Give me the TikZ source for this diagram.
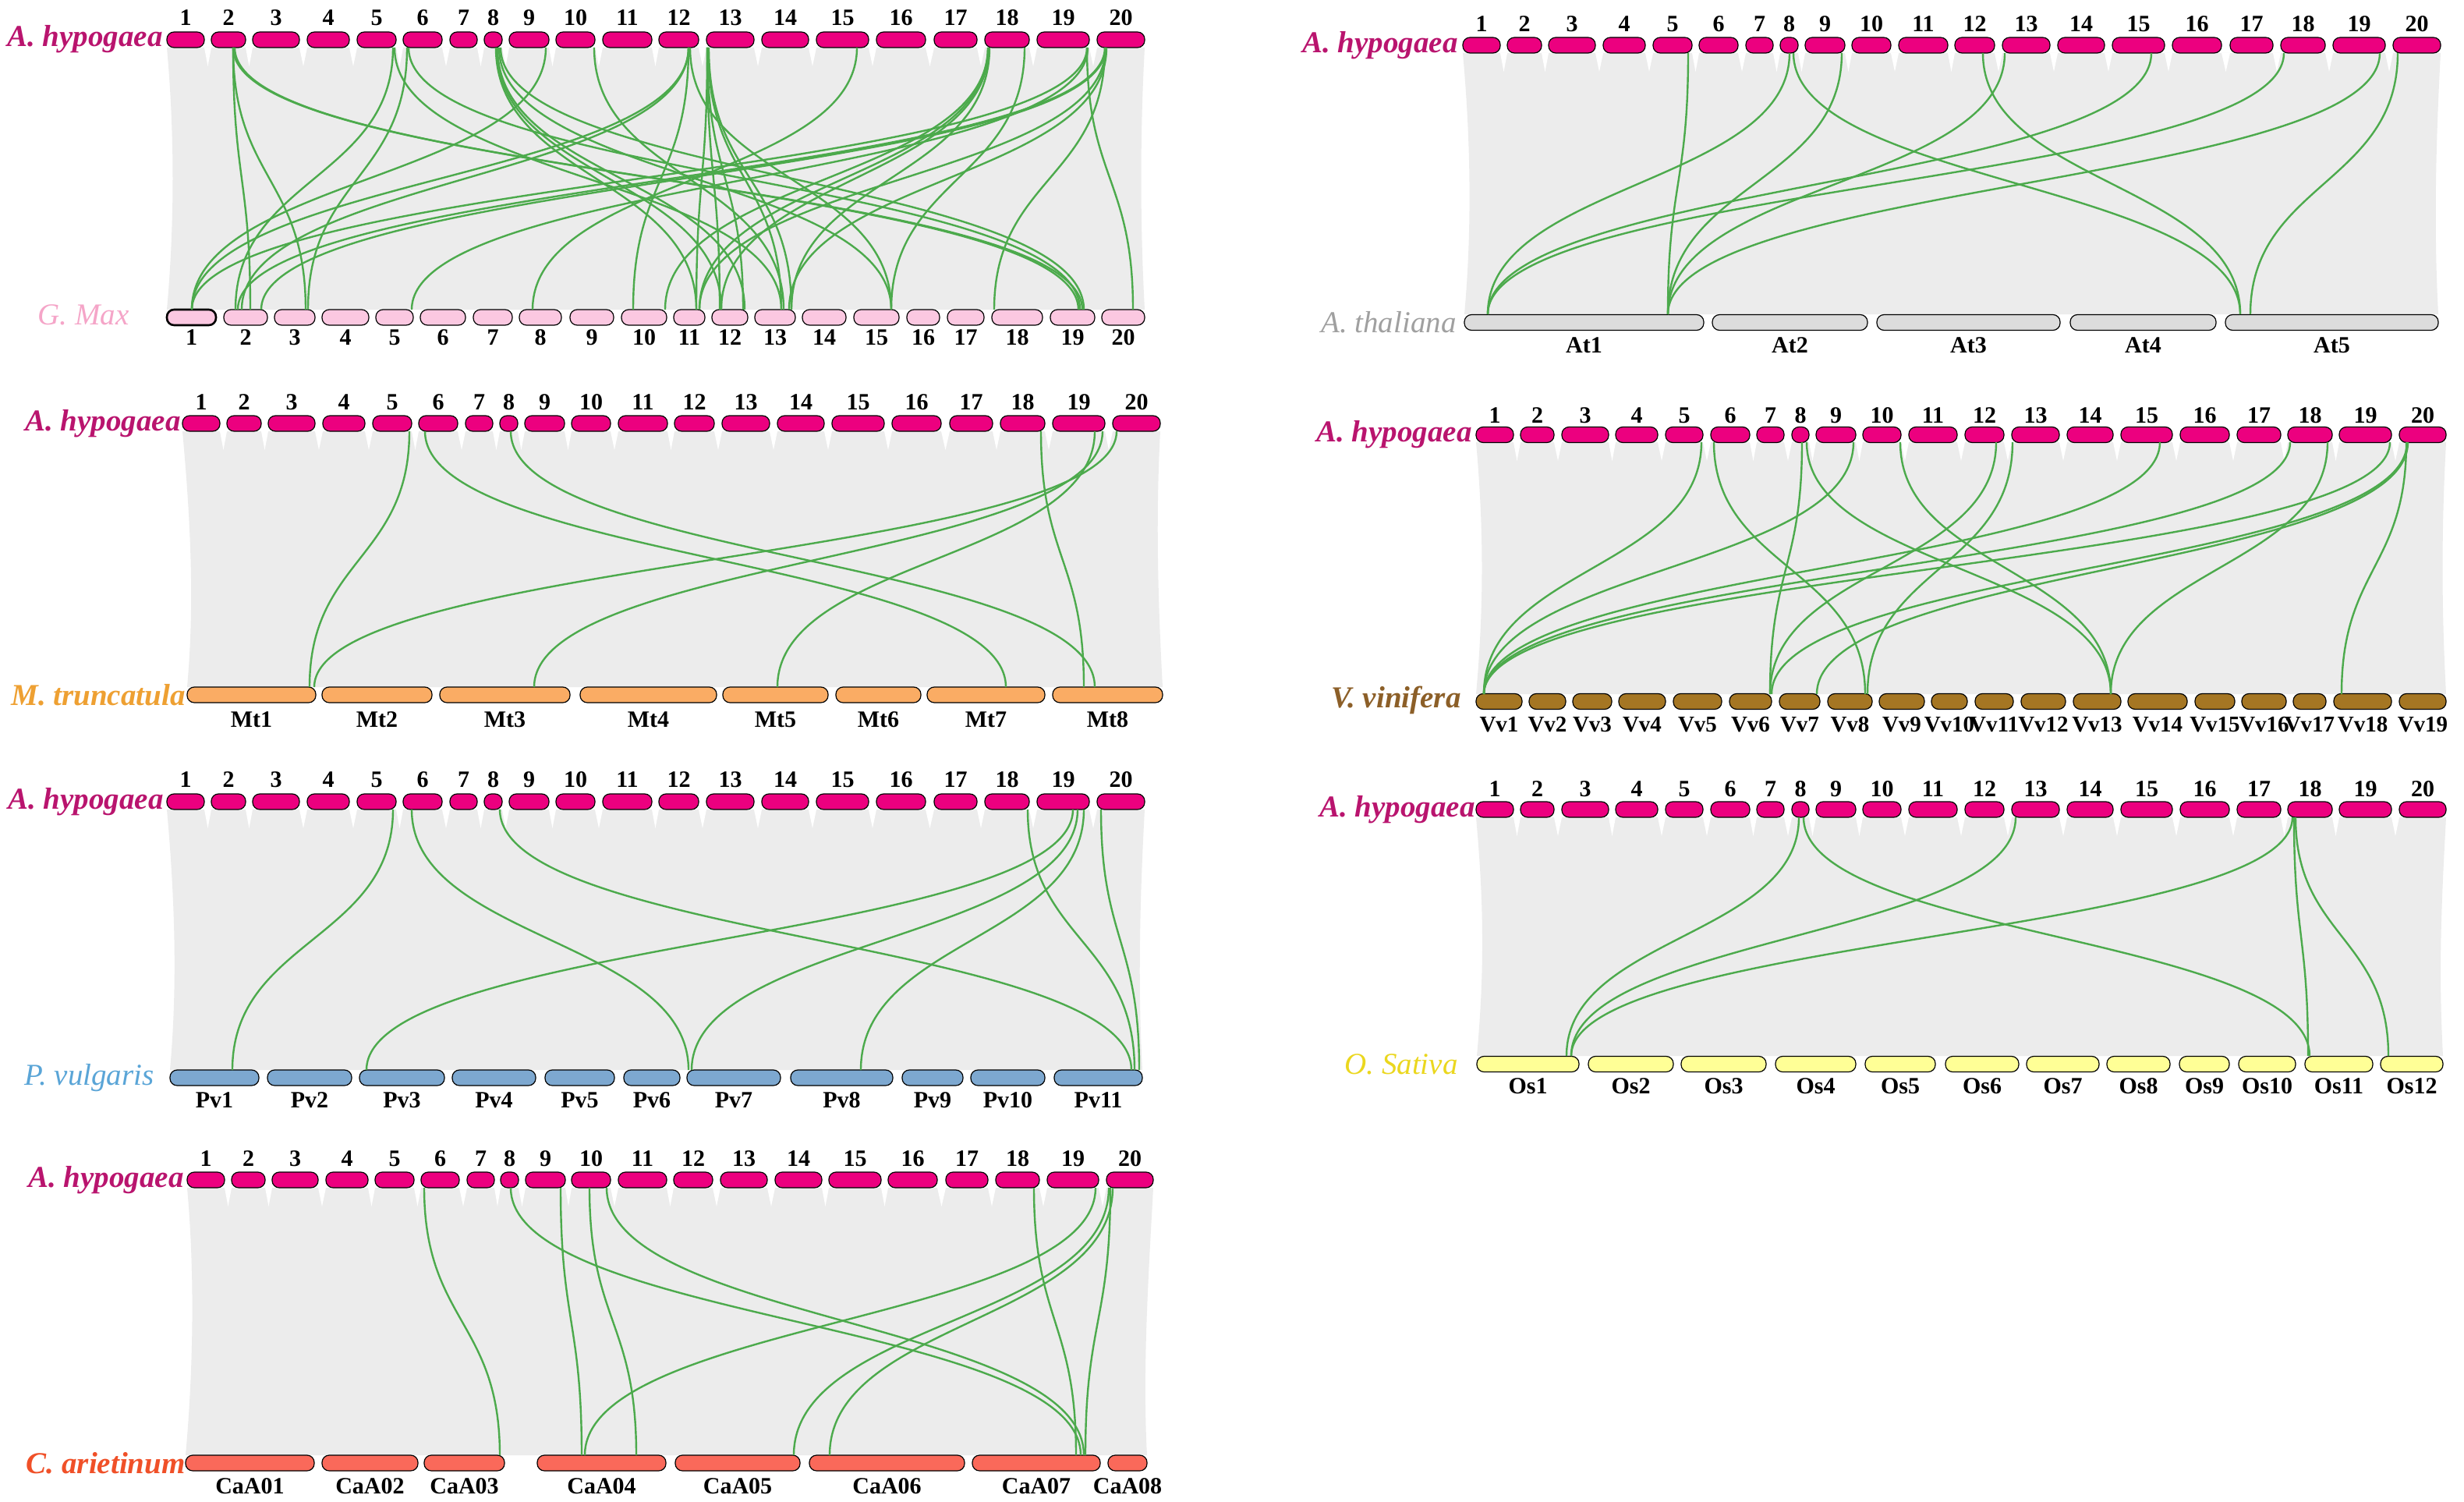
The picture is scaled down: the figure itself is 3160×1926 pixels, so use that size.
\documentclass[tikz,border=0pt]{standalone}
\usepackage{fontspec}
\setmainfont{Liberation Serif}
\definecolor{hypo}{RGB}{236,0,127}
\definecolor{hypolab}{RGB}{185,20,110}
\definecolor{gmfill}{RGB}{251,200,225}
\definecolor{gmlab}{RGB}{245,165,200}
\definecolor{atfill}{RGB}{220,220,220}
\definecolor{atlab}{RGB}{160,160,160}
\definecolor{mtfill}{RGB}{250,172,100}
\definecolor{mtlab}{RGB}{238,160,50}
\definecolor{vvfill}{RGB}{165,118,35}
\definecolor{vvlab}{RGB}{140,95,40}
\definecolor{pvfill}{RGB}{125,168,208}
\definecolor{pvlab}{RGB}{90,165,215}
\definecolor{osfill}{RGB}{255,255,150}
\definecolor{oslab}{RGB}{235,215,30}
\definecolor{cafill}{RGB}{250,105,90}
\definecolor{calab}{RGB}{240,80,40}
\definecolor{bandgray}{RGB}{236,236,236}
\definecolor{linkgreen}{RGB}{76,170,76}
\tikzset{
 chr/.style={draw=black, line width=0.6pt, rounded corners=4.6pt, minimum height=10pt, inner sep=0pt},
 num/.style={font=\bfseries\fontsize{15}{15}\selectfont, inner sep=0pt},
 sp/.style={font=\bfseries\itshape\fontsize{19.5}{19.5}\selectfont, anchor=east, inner sep=0pt},
 spl/.style={font=\itshape\fontsize{19.5}{19.5}\selectfont, anchor=east, inner sep=0pt},
 link/.style={draw=linkgreen, line width=1.2pt},
}
% #1 name, #2 ytop, #3 ybot, #4 fill, #5 label y, #6 label prefix, #7 notch, #8 list
\newcommand\chrrow[8]{%
  \foreach \l/\r [count=\i, remember=\r as \pr (initially 0)] in {#8} {
    \ifnum#7=1 \ifnum\i>1 \fill[white] (\pr,#3) -- (\l,#3) -- ({(\pr+\l)/2},#3+24) -- cycle; \fi\fi
    \node[chr, fill=#4, minimum width={(\r-\l)*0.5pt}] (#1\i) at ({(\l+\r)/2},{(#2+#3)/2}) {};
    \node[num] (#1t\i) at ({(\l+\r)/2},#5) {#6\i};
  }}
% band: #1 tl x, #2 tr x, #3 yt, #4 bl x, #5 br x, #6 yb
\newcommand\band[6]{%
  \fill[bandgray] (#1,#3) -- (#2,#3) .. controls ({#2-6},{#3+110}) and ({#5-6},{#6-110}) .. (#5,#6)
    -- (#4,#6) .. controls ({#4+10},{#6-110}) and ({#1+10},{#3+110}) .. cycle;}
\newcommand\lk[2]{\draw[link] (#1,\YT) .. controls (#1,{(\YT+\YB)/2}) and (#2,{(\YT+\YB)/2}) .. (#2,\YB);}
\begin{document}
\begin{tikzpicture}[x=0.5pt,y=-0.5pt]
\useasboundingbox (0,0) rectangle (3160,1926);
\fill[white] (0,0) rectangle (3160,1926);

% ---------------- Panel 1: G. Max
\band{214}{1468}{61}{214}{1468}{397}
\chrrow{pa}{41}{61}{hypo}{23}{}{1}{214/262,271/315,324/384,394/448,458/508,517/567,577/612,621/644,653/704,713/763,773/836,845/896,906/967,977/1037,1047/1114,1124/1187,1198/1253,1263/1320,1330/1397,1407/1468}
\chrrow{pb}{397}{417}{gmfill}{433}{}{0}{214/277,287/343,352/404,413/473,482/530,539/597,607/657,666/720,731/787,797/855,864/904,913/959,968/1020,1029/1085,1095/1153,1163/1205,1215/1262,1272/1337,1347/1404,1413/1468}
\draw[line width=1.3pt, rounded corners=4.6pt] (214,397) rectangle (277,417);
\def\YT{61}\def\YB{397}
\foreach \a/\b in {299/321,299/392,299/1388,301/1383,504/302,506/1002,522/395,524/1385,636/893,637/925,638/955,640/1143,642/1390,700/246,762/1005,883/246,883/310,883/812,885/1143,907/893,907/923,907/953,908/1002,909/1015,1099/683,1267/853,1267/897,1268/925,1269/1015,1314/1143,1394/1453,1394/246,1395/528,1417/1275,1417/305,1418/335,1418/897,1419/1012}{\lk{\a}{\b}}
\node[sp, text=hypolab] (sp1a) at (209,50) {A. hypogaea};
\node[spl, text=gmlab] (sp1b) at (166,404) {G. Max};

% ---------------- Panel 2: M. truncatula
\band{234}{1488}{553}{240}{1491}{881}
\chrrow{qa}{533}{553}{hypo}{516}{}{1}{234/282,291/335,344/404,414/468,478/528,537/587,597/632,641/664,673/724,733/783,793/856,865/916,926/987,997/1057,1067/1134,1144/1207,1218/1273,1283/1340,1350/1417,1427/1488}
\chrrow{qb}{881}{901}{mtfill}{923}{Mt}{0}{240/405,413/554,564/731,744/919,927/1062,1072/1181,1189/1340,1350/1491}
\def\YT{553}\def\YB{881}
\foreach \a/\b in {525/397,545/1290,655/1404,1404/997,1414/685,1432/403,1335/1390}{\lk{\a}{\b}}
\node[sp, text=hypolab] (sp2a) at (232,543) {A. hypogaea};
\node[sp, text=mtlab] (sp2b) at (238,891) {M. truncatula};

% ---------------- Panel 3: P. vulgaris
\band{214}{1468}{1038}{218}{1465}{1372}
\chrrow{ra}{1018}{1038}{hypo}{1000}{}{1}{214/262,271/315,324/384,394/448,458/508,517/567,577/612,621/644,653/704,713/763,773/836,845/896,906/967,977/1037,1047/1114,1124/1187,1198/1253,1263/1320,1330/1397,1407/1468}
\chrrow{rb}{1372}{1392}{pvfill}{1411}{Pv}{0}{218/332,343/451,461/570,580/687,699/788,800/872,881/1001,1014/1145,1157/1235,1245/1340,1352/1465}
\def\YT{1038}\def\YB{1372}
\foreach \a/\b in {504/298,528/883,641/1451,1376/470,1382/887,1390/1104,1318/1455,1412/1461}{\lk{\a}{\b}}
\node[sp, text=hypolab] (sp3a) at (210,1028) {A. hypogaea};
\node[spl, text=pvlab] (sp3b) at (198,1382) {P. vulgaris};

% ---------------- Panel 4: C. arietinum
\band{240}{1479}{1523}{238}{1471}{1866}
\chrrow{sa}{1503}{1523}{hypo}{1486}{}{1}{240/288,297/340,349/408,418/472,481/531,540/589,599/634,642/665,674/725,733/783,793/855,864/914,924/984,994/1054,1063/1130,1139/1202,1213/1267,1277/1333,1343/1409,1419/1479}
\chrrow{sb}{1866}{1886}{cafill}{1906}{CaA0}{0}{238/403,413/536,544/647,689/854,866/1026,1038/1237,1247/1411,1421/1471}
\def\YT{1523}\def\YB{1866}
\foreach \a/\b in {544/641,719/746,756/816,655/1386,778/1390,1326/1380,1405/750,1422/1018,1427/1064,1424/1392}{\lk{\a}{\b}}
\node[sp, text=hypolab] (sp4a) at (236,1513) {A. hypogaea};
\node[sp, text=calab] (sp4b) at (238,1876) {C. arietinum};

% ---------------- Panel 5: A. thaliana
\band{1876}{3130}{68}{1878}{3127}{403}
\chrrow{ta}{48}{68}{hypo}{31}{}{1}{1876/1924,1933/1977,1986/2046,2056/2110,2120/2170,2179/2229,2239/2274,2283/2306,2315/2366,2375/2425,2435/2498,2507/2558,2568/2629,2639/2699,2709/2776,2786/2849,2860/2915,2925/2982,2992/3059,3069/3130}
\chrrow{tb}{403}{424}{atfill}{443}{At}{0}{1878/2185,2196/2395,2407/2642,2655/2842,2854/3127}
\def\YT{68}\def\YB{403}
\foreach \a/\b in {2295/1908,2759/1908,2929/1908,2165/2139,2362/2139,2571/2139,3052/2139,2300/2873,2543/2873,3075/2886}{\lk{\a}{\b}}
\node[sp, text=hypolab] (sp5a) at (1870,58) {A. hypogaea};
\node[spl, text=atlab] (sp5b) at (1868,413) {A. thaliana};

% ---------------- Panel 6: V. vinifera
\band{1893}{3137}{567}{1893}{3137}{890}
\chrrow{ua}{548}{567}{hypo}{533}{}{1}{1893/1941,1950/1993,2003/2063,2072/2126,2136/2184,2194/2244,2253/2288,2298/2320,2329/2380,2389/2438,2448/2510,2520/2570,2580/2641,2651/2710,2720/2786,2796/2859,2869/2925,2934/2991,3000/3067,3077/3137}
\tikzset{num/.style={font=\bfseries\fontsize{14.5}{14.5}\selectfont, inner sep=0pt}}
\chrrow{ub}{890}{909}{vvfill}{929}{Vv}{0}{1893/1952,1961/2008,2017/2067,2076/2136,2146/2208,2218/2272,2282/2334,2344/2401,2410/2468,2477/2523,2533/2582,2592/2649,2659/2720,2729/2805,2815/2866,2875/2932,2941/2983,2993/3067,3077/3137}
\tikzset{num/.style={font=\bfseries\fontsize{15}{15}\selectfont, inner sep=0pt}}
\def\YT{567}\def\YB{890}
\foreach \a/\b in {2182/1903,2377/1903,2770/1903,2937/1903,3065/1903,2311/2270,2560/2270,3087/2272,3088/2330,2198/2392,2581/2395,2317/2707,2437/2707,2985/2707,3086/3003}{\lk{\a}{\b}}
\node[sp, text=hypolab] (sp6a) at (1888,557) {A. hypogaea};
\node[sp, text=vvlab] (sp6b) at (1874,898) {V. vinifera};

% ---------------- Panel 7: O. sativa
\band{1893}{3137}{1048}{1894}{3133}{1354}
\chrrow{va}{1028}{1048}{hypo}{1012}{}{1}{1893/1941,1950/1993,2003/2063,2072/2126,2136/2184,2194/2244,2253/2288,2298/2320,2329/2380,2389/2438,2448/2510,2520/2570,2580/2641,2651/2710,2720/2786,2796/2859,2869/2925,2934/2991,3000/3067,3077/3137}
\chrrow{vb}{1354}{1375}{osfill}{1393}{Os}{0}{1894/2025,2037/2146,2156/2265,2277/2380,2392/2482,2495/2589,2599/2692,2702/2783,2795/2859,2871/2944,2956/3043,3053/3133}
\def\YT{1048}\def\YB{1354}
\foreach \a/\b in {2307/2009,2585/2015,2940/2015,2313/2962,2942/2960,2944/3063}{\lk{\a}{\b}}
\node[sp, text=hypolab] (sp7a) at (1892,1038) {A. hypogaea};
\node[spl, text=oslab] (sp7b) at (1870,1365) {O. Sativa};
\end{tikzpicture}
\end{document}
